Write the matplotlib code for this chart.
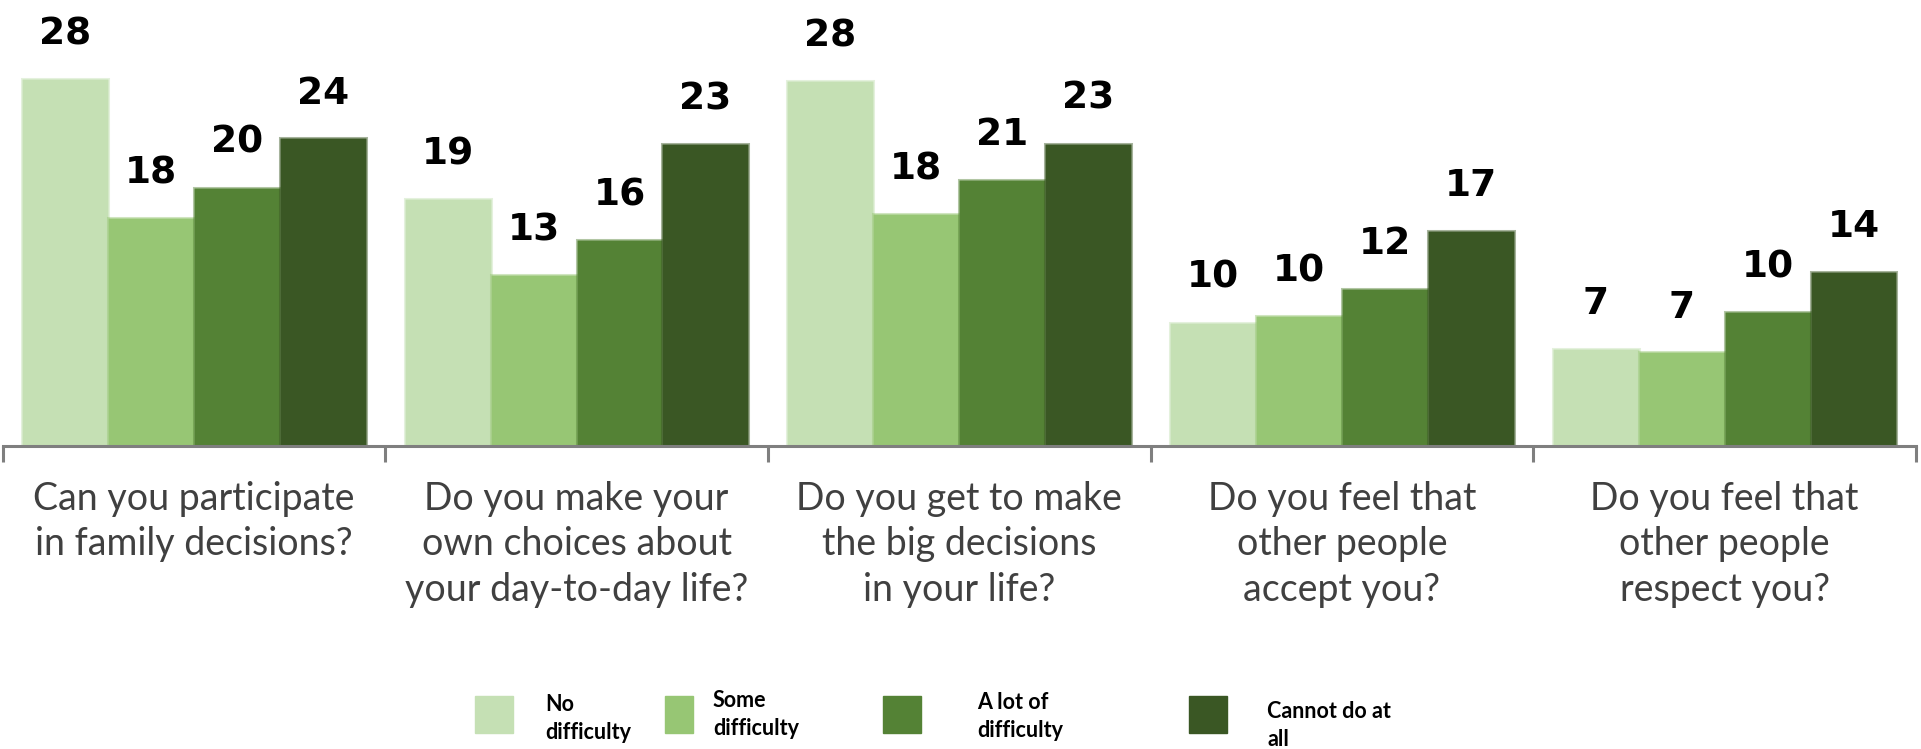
import matplotlib
matplotlib.use("Agg")
from matplotlib import pyplot as plt
from matplotlib.patches import Rectangle
import numpy as np

# survey questions (x categories)
questions = [
    "Can you participate\nin family decisions?",
    "Do you make your\nown choices about\nyour day-to-day life?",
    "Do you get to make\nthe big decisions\nin your life?",
    "Do you feel that\nother people\naccept you?",
    "Do you feel that\nother people\nrespect you?",
]

series_names = ["No\ndifficulty", "Some\ndifficulty", "A lot of\ndifficulty", "Cannot do at\nall"]
colors = ["#C5E0B4", "#97C674", "#548235", "#3A5724"]

# bar heights as drawn, and the printed labels
no_difficulty = [27.95, 18.8, 27.8, 9.4, 7.39]
some_difficulty = [17.4, 13.0, 17.7, 9.9, 7.14]
a_lot_difficulty = [19.7, 15.7, 20.3, 12.0, 10.18]
cannot_do = [23.45, 23.0, 23.05, 16.4, 13.27]

no_difficulty_lbl = [28, 19, 28, 10, 7]
some_difficulty_lbl = [18, 13, 18, 10, 7]
a_lot_difficulty_lbl = [20, 16, 21, 12, 10]
cannot_do_lbl = [24, 23, 23, 17, 14]

series = [no_difficulty, some_difficulty, a_lot_difficulty, cannot_do]
series_lbl = [no_difficulty_lbl, some_difficulty_lbl, a_lot_difficulty_lbl, cannot_do_lbl]

W, H = 1921, 749
fig = plt.figure(figsize=(W / 100, H / 100), dpi=100)

base_px = 446
ax = fig.add_axes([2.5 / W, (H - base_px) / H, (1916 - 2.5) / W, base_px / H])

x = np.arange(len(questions))
bw = 0.2245
for i, (vals, lbls) in enumerate(zip(series, series_lbl)):
    pos = x + (i - 1.5) * bw
    ax.bar(pos, vals, width=bw, color=colors[i],
           edgecolor=matplotlib.colors.to_rgba(colors[i], 0.45), linewidth=2.2)
    for p, v, l in zip(pos, vals, lbls):
        ax.annotate(str(l), xy=(p, v), xytext=(0, 25), textcoords="offset points",
                    ha="center", va="baseline", fontsize=27, fontweight="bold",
                    family="DejaVu Sans", color="black")

ax.set_xlim(-0.5, len(questions) - 0.5)
ax.set_ylim(0, 34)
ax.yaxis.set_visible(False)
for s in ["top", "right", "left"]:
    ax.spines[s].set_visible(False)
ax.spines["bottom"].set_color("#7f7f7f")
ax.spines["bottom"].set_linewidth(2.2)
ax.set_xticks(np.arange(-0.5, len(questions), 1.0))
ax.set_xticklabels([])
ax.tick_params(axis="x", length=11.5, width=2.2, color="#7f7f7f", direction="out")

for i, q in enumerate(questions):
    ax.annotate(q, xy=(i, 0), xycoords=("data", "axes fraction"),
                xytext=(0, -25), textcoords="offset points",
                ha="center", va="top", multialignment="center",
                fontsize=27, family="Lato", color="#404040", linespacing=1.33)

# legend drawn by hand
sq_x = [475, 665, 883, 1189]
sq_w = [38, 28, 38, 38]
txt_x = [545, 713, 977, 1267]
txt_top = [694, 690, 692, 701]
for i in range(4):
    fig.patches.append(Rectangle((sq_x[i] / W, (H - 733) / H), sq_w[i] / W, 37 / H,
                                 transform=fig.transFigure, color=colors[i]))
    fig.text(txt_x[i] / W, (H - txt_top[i]) / H, series_names[i], ha="left",
             va="top", fontsize=15.5, fontweight="bold", family="Lato",
             color="black", linespacing=1.4)

fig.savefig("out.png", dpi=100)
